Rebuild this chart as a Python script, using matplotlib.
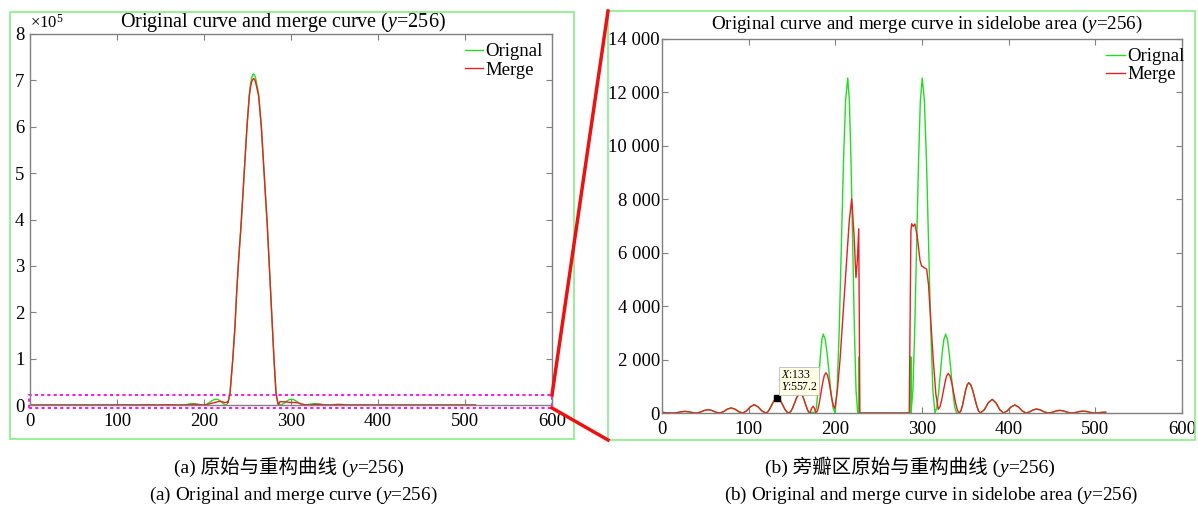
import matplotlib
matplotlib.use('Agg')
import matplotlib.pyplot as plt
import matplotlib.ticker as ticker
from matplotlib.patches import Rectangle
from matplotlib.lines import Line2D

FAM = ['Liberation Serif', 'Noto Sans CJK SC']
plt.rcParams['font.family'] = FAM
plt.rcParams['mathtext.fontset'] = 'custom'
plt.rcParams['mathtext.rm'] = 'Liberation Serif'
plt.rcParams['mathtext.it'] = 'Liberation Serif:italic'
plt.rcParams['font.size'] = 13

# far sidelobes, left side (original and merge coincide)
side_l_x = [0, 4.4, 8.9, 13.3, 17.7, 22.1, 26.6, 31.0, 35.5, 39.9, 44.3, 48.7, 53.2, 57.6, 62.0,
            66.5, 70.9, 75.3, 79.8, 84.2, 88.6, 93.1, 97.5, 101.9, 106.4, 110.8, 115.2, 119.7,
            121.9, 124.1, 126.3, 128.5, 130.8, 133.0, 135.2, 137.4, 139.6, 141.8, 144.1, 146.3,
            148.5, 150.7, 152.9, 155.1, 157.4, 159.6, 161.5, 163.3, 165.2, 167.1, 168.9, 170.8]
side_l_y = [30, 8, 2, 0, 15, 45, 60, 45, 15, 0, 31, 94, 125, 94, 31,
            0, 48, 143, 190, 143, 48, 0, 78, 233, 310, 233, 78, 0,
            37, 139, 279, 418, 520, 557, 520, 418, 279, 139, 37, 0,
            49, 184, 368, 551, 686, 735, 686, 551, 368, 184, 49, 0]

# near sidelobes, left of main lobe
orig_l_x = [173.6, 176.5, 178.1, 179.7, 181.3, 182.9, 184.5, 186.1, 188.35, 190.6, 192.85, 195.1,
            197.35, 199.6, 202.05, 204.5, 206.95, 209.4, 211.85, 214.3, 216.2, 218.1, 220.05,
            222.0, 223.9, 225.8]
orig_l_y = [30, 0, 198, 740, 1475, 2210, 2750, 2950, 2750, 2210, 1475, 740,
            198, 0, 840, 3130, 6265, 9400, 11690, 12530, 11690, 9400, 6265,
            3130, 840, 0]
merge_l_x = [172.7, 174.6, 176.2, 177.7, 179.6, 181.5, 183.5, 185.4, 187.3, 189.2, 190.9, 192.7,
             194.4, 196.1, 197.9, 199.6, 202.5, 205.4, 209.2, 213.1, 216.1, 218.9, 221.5,
             223.8, 225.4, 227.0]
merge_l_y = [180, 250, 150, 0, 100, 376, 752, 1130, 1404, 1505, 1420, 1170,
             840, 510, 260, 175, 900, 1980, 3845, 5710, 7200, 8010, 6705,
             5065, 5710, 6890]

# near sidelobes, right of main lobe
orig_r_x = [287.3, 289.5, 291.6, 293.8, 296.0, 298.1, 300.3, 302.75, 305.2, 307.65, 310.1, 312.55,
            315.0, 317.05, 319.1, 321.15, 323.2, 325.25, 327.3, 329.4, 331.5, 333.65, 335.8,
            337.9, 340.0, 343.0]
orig_r_y = [0, 840, 3130, 6265, 9400, 11690, 12530, 11690, 9400, 6265, 3130, 840,
            0, 198, 740, 1475, 2210, 2750, 2950, 2750, 2210, 1475, 740,
            198, 0, 0]
merge_r_x = [285.3, 287.2, 288.1, 289.8, 291.9, 294.5, 297.7, 299.5, 301.5, 305.4, 307.5, 310.0,
             313.0, 316.0, 318.8, 320.7, 322.6, 324.6, 326.5, 328.4, 330.3, 332.4, 334.5,
             336.7, 338.8, 340.9, 343.0]
merge_r_y = [0, 6800, 7080, 6980, 7070, 6600, 5710, 5500, 5460, 5380, 4800, 3500,
             1980, 700, 137, 230, 470, 800, 1130, 1390, 1480, 1380, 1110,
             740, 370, 100, 0]

# far sidelobes, right side
side_r_x = [344.8, 346.7, 348.5, 350.3, 352.2, 354.0, 356.25, 358.5, 360.75, 363.0, 365.25, 367.5,
            372.0, 376.5, 381.0, 385.3, 389.7, 394.0,
            398.3, 402.7, 407.0, 411.3, 415.7, 420.0, 424.0, 428.0, 432.0, 436.7, 441.3, 446.0,
            450.3, 454.7, 459.0, 463.5, 468.0, 472.5, 477.0, 481.5, 486.0, 490.3, 494.7, 499.0,
            503.5, 508.0, 512.0]
side_r_y = [76, 283, 565, 848, 1054, 1130, 1054, 848, 565, 283, 76, 0,
            128, 383, 510, 383, 128, 0,
            75, 225, 300, 225, 75, 0, 38, 113, 150, 113, 38, 0,
            25, 75, 100, 75, 25, 0, 18, 53, 70, 53, 18, 0,
            10, 25, 30]

# main lobe (x1e5)
main_x = [227.5, 229.9, 233.0, 235.6, 237.5, 239.8, 242.5, 244.8, 247.1, 249.4, 252.1, 253.5, 254.8,
          256.0, 257.0, 258.0, 259.2, 260.5, 262.8, 265.9, 268.2, 270.5, 272.8, 274.7, 276.6,
          278.5, 280.5, 282.8, 284.8]
main_orig = [0.05, 0.25, 0.97, 1.69, 2.41, 3.13, 3.85, 4.56, 5.28, 6.00, 6.72, 6.93, 7.06,
             7.12, 7.14, 7.12, 7.06, 6.93, 6.72, 6.00, 5.28, 4.56, 3.85, 3.13, 2.41,
             1.69, 0.97, 0.25, 0.05]
main_merge = [0.05, 0.25, 0.97, 1.69, 2.41, 3.13, 3.85, 4.56, 5.28, 6.00, 6.66, 6.86, 6.97,
              7.02, 7.04, 7.02, 6.97, 6.86, 6.66, 6.00, 5.28, 4.56, 3.85, 3.13, 2.41,
              1.69, 0.97, 0.25, 0.05]

# the main lobe is cut out of the sidelobe view
gap_orig_x = [227.3, 227.4, 227.5, 287.0, 287.1, 287.2]
gap_orig_y = [0, 2100, 0, 0, 2100, 0]
gap_merge_x = [228.3]
gap_merge_y = [0]

tip_x, tip_y = 133, 557.2

GREEN = '#22dd22'
RED = '#e82020'
GRAY = '#808080'
W, H = 1198, 509


def fx(px):
    return px / W


def fy(py):
    return 1 - py / H


def style(ax, ypad):
    for s in ax.spines.values():
        s.set_color(GRAY)
        s.set_linewidth(1.0)
    ax.tick_params(direction='in', top=True, right=True, length=4, width=0.8,
                   color=GRAY, labelsize=13.5)
    ax.tick_params(axis='x', pad=5.5)
    ax.tick_params(axis='y', pad=ypad)


def caption(fig, xc, yb, parts, size):
    # pieces of text side by side on one baseline, centred on xc (pixels)
    texts = [fig.text(0, fy(yb), s, fontsize=size, style=st, family=FAM,
                      ha='left', va='baseline') for s, st in parts]
    r = fig.canvas.get_renderer()
    widths = [t.get_window_extent(r).width for t in texts]
    x = xc - sum(widths) / 2
    for t, w in zip(texts, widths):
        t.set_x(fx(x))
        x += w


fig = plt.figure(figsize=(W / 100, H / 100), dpi=100)

# ---- (a) full curve
ax1 = fig.add_axes([fx(30), fy(405), (552 - 30) / W, (405 - 34) / H])
sc = 1e5
ox = side_l_x + orig_l_x + main_x + orig_r_x + side_r_x
oy = [v / sc for v in side_l_y + orig_l_y] + main_orig + [v / sc for v in orig_r_y + side_r_y]
mx = side_l_x + merge_l_x + main_x + merge_r_x + side_r_x
my = [v / sc for v in side_l_y + merge_l_y] + main_merge + [v / sc for v in merge_r_y + side_r_y]
ax1.plot(ox, oy, color=GREEN, lw=1.0, label='Orignal')
ax1.plot(mx, my, color=RED, lw=1.0, label='Merge')
ax1.set_xlim(0, 600)
ax1.set_ylim(0, 8)
ax1.set_xticks(range(0, 601, 100))
ax1.set_yticks(range(0, 9))
style(ax1, 4)
ax1.set_title('Original curve and merge curve ($y$=256)', fontsize=14.5, pad=5,
              x=(282.5 - 30) / 522)
ax1.text(0.0, 1.006, r'$\times10^5$', transform=ax1.transAxes, fontsize=12,
         ha='left', va='bottom')
ax1.legend(loc='upper right', bbox_to_anchor=(1.0, 1.0), frameon=False, fontsize=13.5,
           handlelength=1.0, handletextpad=0.1, labelspacing=0.05, borderaxespad=0.2,
           borderpad=0.3)
ax1.add_patch(Rectangle((-1, -0.065), 601, 0.28, fill=False, ec='#ee22ee', lw=1.5,
                        ls=(0, (1.5, 1.5)), clip_on=False))

# ---- (b) sidelobe area
ax2 = fig.add_axes([fx(662), fy(413), (1182 - 662) / W, (413 - 38.7) / H])
ox2 = side_l_x + orig_l_x + gap_orig_x + orig_r_x + side_r_x
oy2 = side_l_y + orig_l_y + gap_orig_y + orig_r_y + side_r_y
mx2 = side_l_x + merge_l_x + gap_merge_x + merge_r_x + side_r_x
my2 = side_l_y + merge_l_y + gap_merge_y + merge_r_y + side_r_y
ax2.plot(ox2, oy2, color=GREEN, lw=1.0, label='Orignal')
ax2.plot(mx2, my2, color=RED, lw=1.0, label='Merge')
ax2.set_xlim(0, 600)
ax2.set_ylim(0, 14000)
ax2.set_xticks(range(0, 601, 100))
ax2.set_yticks(range(0, 14001, 2000))
ax2.yaxis.set_major_formatter(ticker.FuncFormatter(lambda v, p: f'{int(v):,}'.replace(',', ' ')))
style(ax2, 1.5)
ax2.set_title('Original curve and merge curve in sidelobe area ($y$=256)', fontsize=13.7, pad=7,
              x=(926.5 - 662) / 520)
ax2.legend(loc='upper right', bbox_to_anchor=(1.012, 0.985), frameon=False, fontsize=13.5,
           handlelength=1.0, handletextpad=0.1, labelspacing=0.05, borderaxespad=0.0,
           borderpad=0.2)
ax2.plot([tip_x], [tip_y], 's', color='k', ms=4, zorder=5)
ax2.text(tip_x + 4, tip_y + 200, '$X$:%d\n$Y$:%.1f' % (tip_x, tip_y), fontsize=8.5,
         ha='left', va='bottom', linespacing=1.0, zorder=6,
         bbox=dict(boxstyle='square,pad=0.15', fc='#ffffe6', ec='#bbbbbb', lw=0.6))

# frames and zoom connectors
fig.add_artist(Rectangle((fx(10), fy(439)), (574 - 10) / W, (439 - 11.7) / H,
                         transform=fig.transFigure, fill=False, ec='#88ee88', lw=1.2))
fig.add_artist(Rectangle((fx(608), fy(440)), (1195 - 608) / W, (440 - 11) / H,
                         transform=fig.transFigure, fill=False, ec='#88ee88', lw=1.2))
fig.add_artist(Line2D([fx(552), fx(608)], [fy(395), fy(11)], transform=fig.transFigure,
                      color='#ee1111', lw=2.5))
fig.add_artist(Line2D([fx(552), fx(608)], [fy(408), fy(440)], transform=fig.transFigure,
                      color='#ee1111', lw=2.5))

# captions
caption(fig, 289, 473, [('(a) 原始与重构曲线 (', 'normal'), ('y', 'italic'), ('=256)', 'normal')], 14)
fig.text(fx(293), fy(495), '(a) Original and merge curve ($y$=256)', ha='center',
         va='center', fontsize=13.8)
caption(fig, 910, 473, [('(b) 旁瓣区原始与重构曲线 (', 'normal'), ('y', 'italic'), ('=256)', 'normal')], 14)
fig.text(fx(931), fy(495), '(b) Original and merge curve in sidelobe area ($y$=256)',
         ha='center', va='center', fontsize=13.8)

fig.savefig('out.png', dpi=100)
